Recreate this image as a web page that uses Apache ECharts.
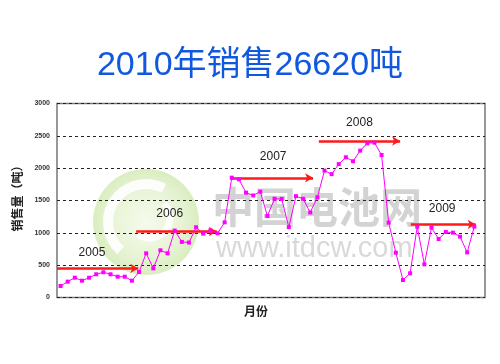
<!DOCTYPE html>
<html><head><meta charset="utf-8">
<script src="https://cdn.jsdelivr.net/npm/echarts@6/dist/echarts.min.js"></script>
<style>html,body{margin:0;padding:0;background:#fff}#c{width:500px;height:364px}</style>
</head><body><div id="c"></div>
<script>
// Monthly sales (tons), 59 months
const sales = [178,245,306,260,306,359,390,359,322,322,260,394,
  683,451,730,683,1035,860,850,1086,988,1036,993,1162,
  1853,1828,1621,1578,1637,1261,1527,1524,1088,1567,1527,1315,
  1550,1962,1908,2063,2168,2107,2271,2385,2395,2204,1157,693,
  271,374,1095,513,1080,905,1013,1003,941,698,1095];
const yTicks = [0,500,1000,1500,2000,2500,3000];
const yearLabels = ['2005','2006','2007','2008','2009'];
// year label anchor positions (month index, value)
const yearLabelX = [4.4,15.3,29.8,41.9,53.5];
const yearLabelY = [700,1290,2170,2700,1370];
// yearly average arrows: start month index, end month index, level
const arrowStart = [-0.5,10.6,23.8,36.2,49.1];
const arrowEnd = [10.9,21.9,35.4,47.6,58.2];
const arrowLevel = [450,1020,1850,2420,1130];

const chart = echarts.init(document.getElementById('c'));
const points = sales.map((v,i)=>[i,v]);
chart.setOption({
  animation:false,
  backgroundColor:'#fff',
  title:{text:'2010年销售26620吨',left:'center',top:44,
    textStyle:{color:'#1058E0',fontSize:34,fontWeight:'normal',fontFamily:'Arial, "Noto Sans CJK SC", sans-serif'}},
  grid:{left:57,right:15,top:103.5,bottom:66.5,show:true,borderColor:'#777',borderWidth:1.5},
  graphic:[
    {type:'circle',z:-10,shape:{cx:146,cy:222,r:53},style:{fill:{type:'radial',x:0.5,y:0.5,r:0.5,colorStops:[{offset:0,color:'#f4faea'},{offset:0.7,color:'#e2f1cc'},{offset:1,color:'#d3eab5'}]},opacity:0.85}},
    {type:'arc',z:-9,shape:{cx:146,cy:222,r:38,startAngle:2.3,endAngle:5.2},style:{stroke:'#fff',lineWidth:10,fill:null,opacity:0.9}},
    {type:'arc',z:-9,shape:{cx:150,cy:218,r:20,startAngle:-0.8,endAngle:2.2},style:{stroke:'#fff',lineWidth:7,fill:null,opacity:0.9}},
    {type:'text',z:-8,left:212,top:186,style:{text:'中国电池网',fontSize:42,fontWeight:'bold',fill:'#c8c8c8',fontFamily:'"Noto Sans CJK SC", sans-serif',opacity:0.8}},
    {type:'text',z:-8,left:216,top:234,style:{text:'www.itdcw.com',fontSize:29,fill:'#d0d0d0',fontFamily:'Arial, sans-serif',opacity:0.8}},
    {type:'text',left:244,top:305,style:{text:'月份',fontSize:12,fontWeight:'bold',fill:'#222',fontFamily:'"Noto Sans CJK SC", sans-serif'}}
  ],
  xAxis:{type:'value',min:-0.5,max:59.5,
    axisLine:{show:false},axisTick:{show:false},axisLabel:{show:false},splitLine:{show:false}},
  yAxis:{type:'value',min:0,max:3000,interval:500,
    name:'销售量（吨）',nameLocation:'middle',nameRotate:90,nameGap:25,
    nameTextStyle:{fontSize:12,fontWeight:'bold',color:'#222',fontFamily:'"Noto Sans CJK SC", sans-serif',padding:[0,0,0,10]},
    axisLine:{show:false},axisTick:{show:false},
    axisLabel:{fontSize:7,fontWeight:'bold',color:'#333',margin:7,fontFamily:'Arial, sans-serif',
      formatter:v=>yTicks.includes(v)?String(v):''},
    splitLine:{show:true,lineStyle:{color:'#222',type:[3,3],width:1}}},
  series:[{
    type:'line',data:points,z:5,
    lineStyle:{color:'#ff00ff',width:1},
    itemStyle:{color:'#ff00ff'},
    symbol:'rect',symbolSize:4,
    markLine:{silent:true,symbol:['none','arrow'],symbolSize:[7,8],
      lineStyle:{color:'#ff1a1a',width:2.5,type:'solid'},label:{show:false},
      data:arrowLevel.map((lv,i)=>[{coord:[arrowStart[i],lv]},{coord:[arrowEnd[i],lv]}])},
    markPoint:{silent:true,symbol:'circle',symbolSize:1,itemStyle:{color:'rgba(0,0,0,0)'},
      label:{show:true,position:'inside',color:'#222',fontSize:12,fontFamily:'Arial, sans-serif',formatter:p=>p.name},
      data:yearLabels.map((t,i)=>({name:t,coord:[yearLabelX[i],yearLabelY[i]]}))}
  }]
});
</script></body></html>
